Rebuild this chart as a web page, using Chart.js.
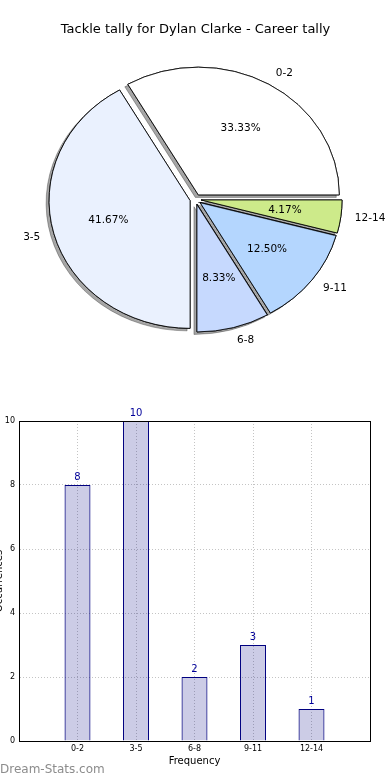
<!DOCTYPE html>
<html><head><meta charset="utf-8">
<script src="https://cdn.jsdelivr.net/npm/chart.js@4.4.0/dist/chart.umd.min.js"></script>
<style>
html,body{margin:0;padding:0;background:#fff;width:390px;height:780px;overflow:hidden;position:relative}
#pie{position:absolute;left:0;top:0}
#bar{position:absolute;left:-12px;top:400px}
#wm{position:absolute;left:0;top:762px;font:12px "DejaVu Sans";color:#8c8c8c;white-space:nowrap}
</style></head><body>
<canvas id="pie" width="390" height="400"></canvas>
<canvas id="bar" width="402" height="380"></canvas>
<div id="wm">Dream-Stats.com</div>
<script>
// ---- data ----
const categories = ['0-2', '3-5', '6-8', '9-11', '12-14'];
const counts = [8, 10, 2, 3, 1];
const yTicks = [0, 2, 4, 6, 8, 10];
const chartTitle = 'Tackle tally for Dylan Clarke - Career tally';
const xAxisTitle = 'Frequency';
const yAxisTitle = 'Occurrences';

// ---- styles ----
const sliceColors = ['#ffffff', '#eaf1fe', '#c6d9fe', '#b4d6fe', '#cdea8a'];
const FONT = 'DejaVu Sans';
const ELLIPSE = 0.906;   // vertical squash of the pie axes
const EXPLODE = 5.6;     // px each wedge is pulled out
const total = counts.reduce((a, b) => a + b, 0);

// Pie drawn clockwise in Chart.js, so reverse to get counter-clockwise order from 3 o'clock
const pieLabels = categories.slice().reverse();
const pieData = counts.slice().reverse();
const pieColors = sliceColors.slice().reverse();

const piePlugin = {
  id: 'piePlugin',
  beforeDatasetDraw(chart, args) {
    const ctx = chart.ctx;
    const arcs = args.meta.data;
    const cx = arcs[0].x, cy = arcs[0].y;
    ctx.save();
    ctx.translate(cx, cy); ctx.scale(1, ELLIPSE); ctx.translate(-cx, -cy);
    for (let i = arcs.length - 1; i >= 0; i--) {
      const arc = arcs[i];
      const mid = (arc.startAngle + arc.endAngle) / 2;
      ctx.save();
      ctx.translate(Math.cos(mid) * EXPLODE, Math.sin(mid) * EXPLODE);
      // shadow pass
      ctx.save();
      ctx.shadowColor = 'rgba(0,0,0,0.35)';
      ctx.shadowOffsetX = -3;
      ctx.shadowOffsetY = 2.5;
      ctx.shadowBlur = 0;
      arc.draw(ctx, chart.chartArea);
      ctx.restore();
      // clean pass
      arc.draw(ctx, chart.chartArea);
      ctx.restore();
    }
    ctx.restore();
    return false;
  },
  afterDatasetsDraw(chart) {
    const ctx = chart.ctx;
    const meta = chart.getDatasetMeta(0);
    ctx.save();
    ctx.fillStyle = '#000';
    ctx.font = '10.5px "' + FONT + '"';
    ctx.textBaseline = 'middle';
    meta.data.forEach((arc, i) => {
      const mid = (arc.startAngle + arc.endAngle) / 2;
      const c = Math.cos(mid), s = Math.sin(mid);
      const r = arc.outerRadius;
      const lx = arc.x + c * (EXPLODE + 1.1 * r);
      const ly = arc.y + s * (EXPLODE + 1.1 * r) * ELLIPSE;
      ctx.textAlign = c > 0 ? 'left' : 'right';
      ctx.fillText(pieLabels[i], lx, ly);
      const px = arc.x + c * (EXPLODE + 0.6 * r);
      const py = arc.y + s * (EXPLODE + 0.6 * r) * ELLIPSE;
      ctx.textAlign = 'center';
      ctx.fillText((pieData[i] / total * 100).toFixed(2) + '%', px, py);
    });
    ctx.restore();
  }
};

new Chart(document.getElementById('pie'), {
  type: 'pie',
  data: {
    labels: pieLabels,
    datasets: [{
      data: pieData,
      backgroundColor: pieColors,
      borderColor: '#000',
      borderWidth: 0.9,
      offset: 0,
      clip: false
    }]
  },
  options: {
    responsive: false,
    animation: false,
    devicePixelRatio: 1,
    events: [],
    rotation: 90,
    radius: 141,
    layout: { padding: { left: 1, right: 0, top: 0, bottom: 39 } },
    plugins: {
      legend: { display: false },
      tooltip: { enabled: false },
      title: {
        display: true, text: chartTitle, color: '#000',
        font: { family: FONT, size: 13, weight: 'normal' },
        padding: { top: 22, bottom: 0 }
      }
    }
  },
  plugins: [piePlugin]
});

// ---- bar chart ----
const barLabels = [''].concat(categories, ['']);
const barData = [null].concat(counts, [null]);

const barPlugin = {
  id: 'barPlugin',
  afterDatasetsDraw(chart) {
    const ctx = chart.ctx;
    const a = chart.chartArea;
    ctx.save();
    ctx.strokeStyle = '#000';
    ctx.lineWidth = 1;
    ctx.strokeRect(Math.round(a.left) + 0.5, Math.round(a.top) + 0.5,
      Math.round(a.right - a.left), Math.round(a.bottom - a.top));
    const meta = chart.getDatasetMeta(0);
    ctx.fillStyle = '#000099';
    ctx.font = '10px "' + FONT + '"';
    ctx.textAlign = 'center';
    ctx.textBaseline = 'middle';
    meta.data.forEach((bar, i) => {
      const v = barData[i];
      if (v === null || v === undefined) return;
      ctx.fillText(String(v), bar.x, bar.y - 8);
    });
    ctx.restore();
  }
};

new Chart(document.getElementById('bar'), {
  type: 'bar',
  data: {
    labels: barLabels,
    datasets: [{
      data: barData,
      backgroundColor: 'rgba(0,0,128,0.2)',
      borderColor: '#000080',
      borderWidth: 1,
      categoryPercentage: 1,
      barPercentage: 0.444
    }]
  },
  options: {
    responsive: false,
    animation: false,
    devicePixelRatio: 1,
    events: [],
    layout: { padding: { left: 0, right: 20, top: 21, bottom: 0 } },
    plugins: { legend: { display: false }, tooltip: { enabled: false }, title: { display: false } },
    scales: {
      x: {
        type: 'category',
        offset: false,
        grid: { color: '#c4c4c4', lineWidth: 1, drawTicks: false, offset: false },
        border: { display: true, color: '#000', width: 1, dash: [1, 2] },
        ticks: { font: { family: FONT, size: 8 }, color: '#000', padding: 3, autoSkip: false, maxRotation: 0 },
        title: { display: true, text: xAxisTitle, color: '#000', font: { family: FONT, size: 10 }, padding: { top: 0, bottom: 13 } },
        afterFit(scale) { scale.height = 39; }
      },
      y: {
        min: 0, max: 10,
        afterBuildTicks(scale) { scale.ticks = yTicks.map(v => ({ value: v })); },
        grid: { color: '#c4c4c4', lineWidth: 1, drawTicks: false },
        border: { display: true, color: '#000', width: 1, dash: [1, 2] },
        ticks: { font: { family: FONT, size: 8 }, color: '#000', padding: 4 },
        title: { display: true, text: yAxisTitle, color: '#000', font: { family: FONT, size: 10 }, padding: { top: 5, bottom: 0 } },
        afterFit(scale) { scale.width = 31; }
      }
    }
  },
  plugins: [barPlugin]
});
</script>
</body></html>
